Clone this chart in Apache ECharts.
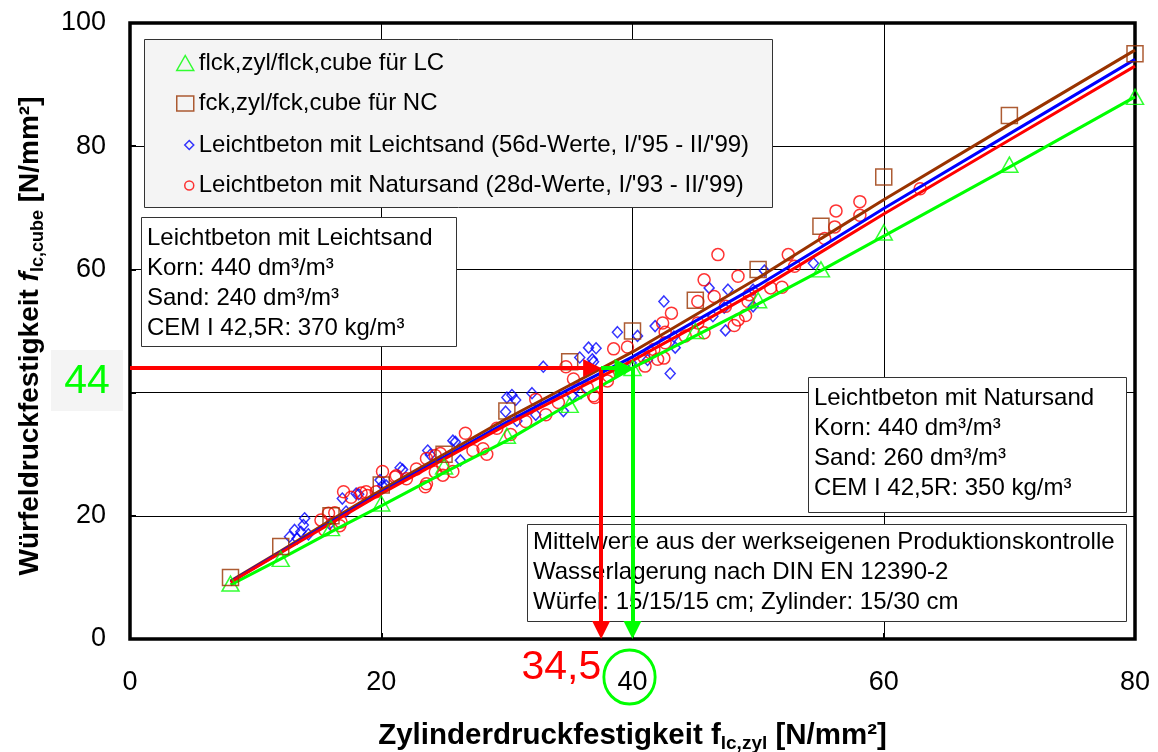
<!DOCTYPE html>
<html><head><meta charset="utf-8">
<script src="https://cdn.jsdelivr.net/npm/echarts@6/dist/echarts.min.js"></script>
<style>html,body{margin:0;padding:0;background:#fff}#c{width:1158px;height:752px}</style>
</head><body><div id="c"></div>
<script>
const FONT = '"Liberation Sans", Arial, sans-serif';

// ---- data ----
const xTicks = [0, 20, 40, 60, 80];
const yTicks = [0, 20, 40, 60, 80, 100];

const classX = [8, 12, 16, 20, 25, 30, 35, 40, 45, 50, 55, 60, 70, 80];
const lcCube = [9, 13, 18, 22, 28, 33, 38, 44, 50, 55, 60, 66, 77, 88];
const ncCube = [10, 15, 20, 25, 30, 37, 45, 50, 55, 60, 67, 75, 85, 95];

const fitNC = [9.4, 14.3, 19.3, 24.2, 30.0, 35.8, 41.2, 46.6, 52.6, 58.6, 65.0, 71.3, 83.5, 95.6];
const fitLS = [9.3, 14.1, 19.0, 23.8, 29.5, 35.2, 40.6, 45.8, 51.6, 57.4, 63.6, 69.9, 82.0, 94.1];
const fitNS = [9.2, 14.0, 18.8, 23.6, 29.2, 34.8, 40.0, 45.2, 50.8, 56.6, 62.8, 69.0, 81.0, 93.0];
const fitLC = [8.8, 13.0, 17.4, 21.6, 27.0, 32.2, 38.2, 44.0, 49.2, 54.4, 59.8, 65.4, 76.6, 88.0];

const leichtsand = [
  [12.7,16.6],[13.1,17.7],[13.3,16.3],[13.6,17.4],[13.8,18.5],[13.9,19.6],[14.2,17.0],[15.9,18.7],
  [16.9,22.8],[17.2,20.7],[18.0,23.6],[18.2,23.5],[19.9,25.8],[20.1,24.9],[20.4,24.9],[21.5,27.8],
  [21.7,27.5],[23.7,30.6],[23.9,29.9],[25.7,32.2],[25.9,32.0],[26.3,29.0],[29.9,36.9],[30.0,39.2],
  [30.4,39.6],[30.7,38.8],[30.8,35.4],[32.0,39.9],[32.3,36.4],[32.9,44.2],[34.5,37.0],[35.2,39.5],
  [35.8,45.7],[35.9,39.9],[36.5,47.3],[36.8,45.4],[36.9,45.0],[37.1,47.2],[38.8,49.8],[39.9,44.8],
  [40.4,49.2],[41.2,45.3],[41.8,50.8],[42.5,54.8],[43.0,43.1],[43.3,49.1],[43.4,47.3],[46.1,57.0],
  [46.4,52.4],[47.3,53.8],[47.4,50.1],[47.6,56.7],[49.6,56.7],[49.6,54.0],[50.5,59.8],[54.4,61.0]
];
const natursand = [
  [15.2,19.3],[15.5,17.7],[15.8,20.4],[16.3,20.5],[16.7,18.4],[16.8,19.0],[17.0,23.9],[17.6,23.0],
  [18.4,23.7],[18.8,23.9],[18.9,23.3],[19.6,23.9],[20.1,27.2],[21.1,26.3],[21.2,26.5],[22.0,26.0],
  [22.8,27.6],[23.5,24.7],[23.6,29.3],[23.6,25.2],[24.3,29.8],[24.3,27.1],[24.7,30.1],[24.9,26.6],
  [24.9,28.2],[25.7,27.2],[26.7,33.4],[27.3,30.6],[28.1,30.9],[28.4,30.0],[29.2,34.2],[30.3,33.2],
  [31.5,35.3],[32.3,38.9],[33.1,36.4],[34.1,38.4],[34.7,44.2],[35.3,42.2],[36.4,40.8],[36.9,39.5],
  [37.0,39.2],[38.0,41.9],[38.1,42.7],[38.5,47.1],[39.6,47.4],[40.9,45.8],[41.0,44.3],[41.4,46.5],
  [41.7,47.0],[42.0,45.4],[42.4,51.3],[42.5,45.6],[42.6,48.1],[42.6,49.8],[43.1,52.9],[44.2,49.2],
  [45.2,54.8],[45.2,51.3],[45.7,58.3],[45.7,49.7],[46.5,55.6],[46.8,62.4],[47.4,54.0],[48.1,50.9],
  [48.4,51.8],[48.4,58.9],[49.0,52.5],[49.2,54.8],[49.3,55.9],[51.0,57.0],[51.9,57.1],[52.4,62.4],
  [52.9,60.5],[55.3,65.0],[56.1,66.9],[56.2,69.5],[58.1,71.0],[58.1,68.8],[62.9,73.1]
];

// read-off example (arrows)
const readCube = 44;
const readZylRed = 37.5;
const readZylGreen = 40;
const readLabelRed = 34.5;

const nameLC = 'flck,zyl/flck,cube für LC';
const nameNC = 'fck,zyl/fck,cube für NC';
const nameLS = "Leichtbeton mit Leichtsand (56d-Werte, I/'95 - II/'99)";
const nameNS = "Leichtbeton mit Natursand (28d-Werte, I/'93 - II/'99)";

const boxLS = ['Leichtbeton mit Leichtsand', 'Korn: 440 dm³/m³', 'Sand: 240 dm³/m³', 'CEM I 42,5R: 370 kg/m³'];
const boxNS = ['Leichtbeton mit Natursand', 'Korn: 440 dm³/m³', 'Sand: 260 dm³/m³', 'CEM I 42,5R: 350 kg/m³'];
const boxMW = ['Mittelwerte aus der werkseigenen Produktionskontrolle', 'Wasserlagerung nach DIN EN 12390-2', 'Würfel: 15/15/15 cm; Zylinder: 15/30 cm'];

// ---- layout ----
const W = 1158, H = 752;
const G = {left: 130, right: 23, top: 23, bottom: 113};
const AH = 18; // arrow head length
const dxU = (AH / 2) * (xTicks[xTicks.length-1] - xTicks[0]) / (W - G.left - G.right);
const dyU = (AH / 2) * (yTicks[yTicks.length-1] - yTicks[0]) / (H - G.top - G.bottom);

const RED = '#ff0000', GREEN = '#00ff00', BLUE = '#0000ff', BROWN = '#993300';

const zip = (xs, ys) => xs.map((x, i) => [x, ys[i]]);

const chart = echarts.init(document.getElementById('c'), null, {renderer: 'canvas'});

const richName = (size, sub) => ({
  b: {fontSize: size, fontWeight: 'bold', fontFamily: FONT, color: '#000', lineHeight: 34},
  i: {fontSize: size, fontWeight: 'bold', fontStyle: 'italic', fontFamily: FONT, color: '#000', lineHeight: 34},
  s: {fontSize: sub, fontWeight: 'bold', fontFamily: FONT, color: '#000', verticalAlign: 'bottom', lineHeight: sub}
});

const axisCommon = {
  type: 'value',
  axisLine: {show: false},
  axisTick: {show: true, inside: true, length: 6, lineStyle: {color: '#000', width: 2}},
  splitLine: {show: true, lineStyle: {color: '#000', width: 1}},
  axisLabel: {fontSize: 27, color: '#000', fontFamily: FONT},
  nameLocation: 'middle'
};

const hollow = (c) => ({color: 'rgba(0,0,0,0)', borderColor: c, borderWidth: 1.5});

const option = {
  animation: false,
  backgroundColor: '#fff',
  grid: {left: G.left, right: G.right, top: G.top, bottom: G.bottom, outerBoundsMode: 'none', containLabel: false,
         show: true, borderColor: '#000', borderWidth: 3.5, backgroundColor: 'rgba(0,0,0,0)'},
  xAxis: Object.assign({}, axisCommon, {
    min: xTicks[0], max: xTicks[xTicks.length-1], interval: xTicks[1] - xTicks[0],
    axisLabel: Object.assign({}, axisCommon.axisLabel, {margin: 30}),
    name: '{b|Zylinderdruckfestigkeit f}{s|lc,zyl}{b| [N/mm²]}',
    nameGap: 80,
    nameTextStyle: {rich: richName(29.5, 19)}
  }),
  yAxis: Object.assign({}, axisCommon, {
    min: yTicks[0], max: yTicks[yTicks.length-1], interval: yTicks[1] - yTicks[0],
    axisLabel: Object.assign({}, axisCommon.axisLabel, {margin: 24}),
    name: '{b|Würfeldruckfestigkeit }{i|f}{s|lc,cube}{b| [N/mm²]}',
    nameGap: 83,
    nameTextStyle: {rich: richName(28, 18), padding: [0, 10, 0, 0]}
  }),
  legend: [
    {
      data: [
        {name: nameLC, icon: 'triangle', itemStyle: hollow(GREEN)},
        {name: nameNC, icon: 'rect', itemStyle: hollow(BROWN)}
      ],
      orient: 'vertical', left: 176, top: 51, padding: 0,
      itemWidth: 17, itemHeight: 15, itemGap: 16.5, selectedMode: false,
      textStyle: {fontSize: 24, fontFamily: FONT, color: '#000', lineHeight: 24}
    },
    {
      data: [
        {name: nameLS, icon: 'diamond', itemStyle: hollow(BLUE)},
        {name: nameNS, icon: 'circle', itemStyle: hollow(RED)}
      ],
      orient: 'vertical', left: 184, top: 133, padding: 0,
      itemWidth: 9, itemHeight: 9, itemGap: 16.5, selectedMode: false,
      textStyle: {fontSize: 24, fontFamily: FONT, color: '#000', lineHeight: 24}
    }
  ],
  series: [
    {name: nameLS, type: 'scatter', data: leichtsand, symbol: 'diamond', symbolSize: [10, 11], itemStyle: hollow(BLUE), silent: true},
    {name: nameNS, type: 'scatter', data: natursand, symbol: 'circle', symbolSize: 12, itemStyle: hollow(RED), silent: true},
    {name: 'fit LC', type: 'line', data: zip(classX, fitLC), symbol: 'none', lineStyle: {color: GREEN, width: 3}, silent: true},
    {name: 'fit NC', type: 'line', data: zip(classX, fitNC), symbol: 'none', lineStyle: {color: BROWN, width: 3}, silent: true},
    {name: 'fit LS', type: 'line', data: zip(classX, fitLS), symbol: 'none', lineStyle: {color: BLUE, width: 3}, silent: true},
    {name: 'fit NS', type: 'line', data: zip(classX, fitNS), symbol: 'none', lineStyle: {color: RED, width: 3}, silent: true},
    {name: nameLC, type: 'scatter', data: zip(classX, lcCube), symbol: 'triangle', symbolSize: [17, 15], itemStyle: hollow(GREEN), silent: true, z: 3},
    {name: nameNC, type: 'scatter', data: zip(classX, ncCube), symbol: 'rect', symbolSize: [16, 16], itemStyle: hollow(BROWN), silent: true, z: 3},
    {
      name: 'arrows', type: 'line', data: [], silent: true, z: 4,
      markLine: {
        silent: true, animation: false, symbol: ['none', 'triangle'], symbolSize: [AH, AH],
        label: {show: false}, emphasis: {disabled: true},
        data: [
          [{coord: [xTicks[0], readCube], lineStyle: {color: RED, width: 4, type: 'solid'}, itemStyle: {color: RED}}, {coord: [readZylRed - dxU, readCube]}],
          [{coord: [readZylRed, readCube], lineStyle: {color: RED, width: 4, type: 'solid'}, itemStyle: {color: RED}}, {coord: [readZylRed, yTicks[0] + dyU]}],
          [{coord: [readZylRed, readCube], lineStyle: {color: GREEN, width: 4, type: 'solid'}, itemStyle: {color: GREEN}}, {coord: [readZylGreen - dxU, readCube]}],
          [{coord: [readZylGreen, readCube], lineStyle: {color: GREEN, width: 4, type: 'solid'}, itemStyle: {color: GREEN}}, {coord: [readZylGreen, yTicks[0] + dyU]}]
        ]
      }
    }
  ]
};
chart.setOption(option);

// ---- annotations positioned through the axes ----
const px = (x, y) => chart.convertToPixel({gridIndex: 0}, [x, y]);
const pY44 = px(xTicks[0], readCube);
const pRed = px(readLabelRed, yTicks[0]);
const pGreen = px(readZylGreen, yTicks[0]);

function textBox(x, y, w, h, lines, fill) {
  return [
    {type: 'rect', z: 1, shape: {x: x + 0.5, y: y + 0.5, width: w, height: h}, style: {fill: fill, stroke: '#333', lineWidth: 1}, silent: true},
    {type: 'text', z: 1.1, x: x + 6, y: y + (lines.length === 3 ? 3 : 6), silent: true,
     style: {text: lines.join('\n'), font: '24px ' + FONT, fill: '#000', lineHeight: 30, textVerticalAlign: 'top'}}
  ];
}

chart.setOption({
  graphic: [
    {type: 'rect', z: 1, shape: {x: 144.5, y: 39.5, width: 628, height: 168}, style: {fill: '#f4f4f4', stroke: '#333', lineWidth: 1}, silent: true},
    ...textBox(141, 217, 315, 129, boxLS, '#fff'),
    ...textBox(808, 377, 318, 135, boxNS, '#fff'),
    ...textBox(527, 524, 599, 97, boxMW, '#fff'),
    {type: 'rect', z: 1, shape: {x: pY44[0] - 79, y: pY44[1] - 18, width: 72, height: 61}, style: {fill: '#f4f4f4'}, silent: true},
    {type: 'text', z: 1.1, x: pY44[0] - 43, y: pY44[1] + 14, silent: true,
     style: {text: String(readCube), font: '41px ' + FONT, fill: GREEN, textAlign: 'center', textVerticalAlign: 'middle'}},
    {type: 'text', z: 5, x: pRed[0] - 2, y: pRed[1] + 29, silent: true,
     style: {text: String(readLabelRed).replace('.', ','), font: '41px ' + FONT, fill: RED, textAlign: 'center', textVerticalAlign: 'middle'}},
    {type: 'circle', z: 5, x: pGreen[0] - 3, y: pGreen[1] + 38, scaleX: 0.95, shape: {cx: 0, cy: 0, r: 27}, style: {fill: 'none', stroke: GREEN, lineWidth: 3}, silent: true}
  ]
});
</script>
</body></html>
